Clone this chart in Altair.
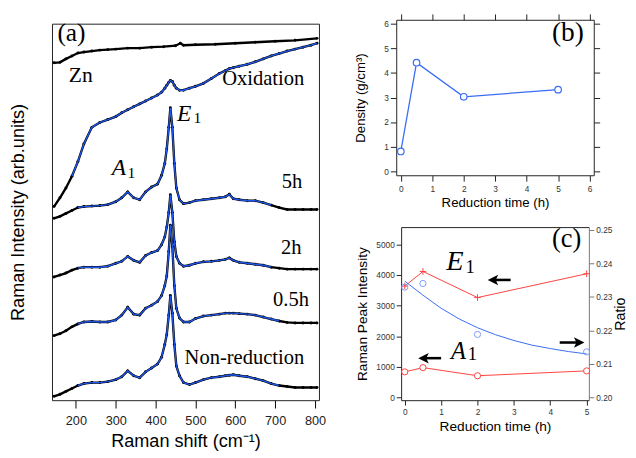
import altair as alt
import pandas as pd

SANS = "Liberation Sans"
SERIF = "Liberation Serif"

# ---------------- panel (a): Raman spectra (arb. units) ----------------
SHIFT = [145, 160, 175, 190, 205, 220, 240, 260, 280, 300, 315, 330, 345, 360, 375, 390, 405,
         415, 423, 428, 433, 437, 442, 447, 452, 460, 470, 485, 500, 520, 540, 560, 575, 585, 595,
         610, 630, 650, 670, 690, 710, 730, 750, 770, 790, 805]
NONRED = [7, 9, 12, 15, 18, 20, 21, 21, 22, 24, 27, 33, 28, 26, 32, 36, 40,
          47, 60, 70, 90, 110, 92, 60, 38, 28, 21, 19, 21, 24, 26, 27, 28, 28.5, 29,
          28, 27, 25, 23, 20, 18, 17, 16, 16, 16, 16]
H05 = [69, 71, 74, 78, 81, 83, 83.5, 83, 83, 85, 90, 98, 91, 90, 97, 100, 104,
       110, 120, 130, 155, 182, 160, 120, 97, 87, 83, 83, 86.5, 89, 90, 91, 92, 92, 92,
       91.5, 91, 90, 88, 86, 84, 82.5, 82, 82, 82, 82]
H2 = [129, 131, 133, 136, 138, 139, 139, 139, 140, 143, 145, 150, 146, 144, 151, 154, 156,
      162, 170, 180, 195, 213, 195, 165, 150, 143, 140, 141, 143, 144.5, 145, 146, 147, 148.5, 146,
      144, 143, 142, 141, 139, 138, 137, 137, 137, 137, 137]
H5 = [189, 191, 194, 197, 200, 201, 201.5, 202, 203, 206, 210, 216, 210, 208, 216, 221, 224,
      233, 245, 260, 282, 302, 282, 245, 220, 208, 204, 205, 207, 208, 209, 210, 211, 213.5, 209,
      208, 207, 207, 205, 202.5, 200, 198, 198, 198, 198, 198]
OXID = [201, 210, 220, 232, 247, 265, 282, 287, 290, 293, 297, 300, 303, 306, 309, 312, 315,
        318, 322, 325, 328, 330, 329, 325, 322, 320, 320, 322, 324, 327, 332, 337, 340, 342, 343,
        344.5, 346.5, 349, 352, 355, 357.5, 360, 362, 364, 366, 368]
ZN_SHIFT = [145, 160, 175, 190, 205, 220, 240, 260, 280, 300, 330, 360, 390, 420, 450, 462, 470,
            500, 550, 600, 650, 700, 750, 805]
ZN = [348, 348.5, 352, 355, 358, 359, 360, 361, 361.5, 362, 363, 363, 364, 364.5, 365.5, 368, 366,
      366.5, 367, 368, 369, 370, 371, 373]
CURVES = ["Non-reduction", "0.5h", "2h", "5h", "Oxidation"]
FIT_RANGE = {"Non-reduction": (200, 720), "0.5h": (200, 725), "2h": (200, 690),
             "5h": (200, 695), "Oxidation": (190, 805)}

# ---------------- panel (b): density ----------------
DENS_T = [0, 0.5, 2, 5]
DENS = [0.8, 4.42, 3.03, 3.32]

# ---------------- panel (c): peak intensity and ratio ----------------
RED_T = [0, 0.5, 2, 5]
E1_INT = [3640, 4117, 3265, 4041]
A1_INT = [839, 977, 712, 871]
RATIO = [0.2329, 0.2340, 0.2188, 0.2136]
FIT_T = [0, 0.5, 1, 1.5, 2, 2.5, 3, 3.5, 4, 4.5, 5]
FIT_RATIO = [0.2347, 0.2305, 0.2266, 0.2234, 0.2208, 0.2187, 0.2170, 0.2156, 0.2146, 0.2137, 0.2130]

FRAME = "#222222"

# ======================= build panel (a) =======================
rows = []
for name, vals in zip(CURVES, [NONRED, H05, H2, H5, OXID]):
    lo, hi = FIT_RANGE[name]
    for s, v in zip(SHIFT, vals):
        rows.append({"curve": name, "shift": s, "I": v, "fit": lo <= s <= hi})
for s, v in zip(ZN_SHIFT, ZN):
    rows.append({"curve": "Zn", "shift": s, "I": v, "fit": False})
spec = pd.DataFrame(rows)

ascale_x = alt.Scale(domain=[140, 810], nice=False, zero=False)
ascale_y = alt.Scale(domain=[3, 388], range=[389, 4], nice=False, zero=False)
xa = alt.X("shift:Q", scale=ascale_x,
           axis=alt.Axis(values=[200, 300, 400, 500, 600, 700, 800], title="Raman shift (cm⁻¹)",
                         tickSize=8, tickColor="black", labelFontSize=13, labelColor="#222",
                         titleFontSize=18.5, titleColor="black", labelPadding=7, titlePadding=4,
                         domain=True, grid=False))
ya = alt.Y("I:Q", scale=ascale_y,
           axis=alt.Axis(labels=False, ticks=False, domain=True, grid=False,
                         title="Raman Intensity (arb.units)", titleFontSize=18.5,
                         titleColor="black", titlePadding=25))
xa_top = alt.X("shift:Q", scale=ascale_x,
               axis=alt.Axis(orient="top", labels=False, ticks=False, domain=True, grid=False,
                             title=None, offset=-4))
ya_right = alt.Y("I:Q", scale=ascale_y,
                 axis=alt.Axis(orient="right", labels=False, ticks=False, domain=True, grid=False,
                               title=None))

black_line = alt.Chart(spec).mark_line(color="black", strokeWidth=2.4).encode(
    x=xa, y=ya, detail="curve:N")
black_dots = alt.Chart(spec).mark_point(filled=True, color="black", size=9, opacity=1).encode(
    x=xa, y=ya)
blue_line = alt.Chart(spec).transform_filter("datum.fit").mark_line(
    color="#1f55e8", strokeWidth=1.4).encode(x=xa, y=ya, detail="curve:N")

ann_a_right = pd.DataFrame({
    "shift": [773, 768, 766, 785, 773],
    "I": [331.5, 226, 158.5, 105, 45.5],
    "txt": ["Oxidation", "5h", "2h", "0.5h", "Non-reduction"]})
ann_a_center = pd.DataFrame({"shift": [212], "I": [335.5], "txt": ["Zn"]})
ann_a_label = pd.DataFrame({"shift": [153.5], "I": [378.5], "txt": ["(a)"]})
ann_a_ital = pd.DataFrame({"shift": [471.8, 307.8], "I": [295.5, 240], "txt": ["E", "A"]})
ann_a_sub = pd.DataFrame({"shift": [505, 339.5], "I": [291, 235], "txt": ["1", "1"]})

t_right = alt.Chart(ann_a_right).mark_text(font=SERIF, fontSize=21, align="right",
                                           baseline="middle").encode(x=xa, y=ya, text="txt:N")
t_center = alt.Chart(ann_a_center).mark_text(font=SERIF, fontSize=22, align="center",
                                             baseline="middle").encode(x=xa, y=ya, text="txt:N")
t_label = alt.Chart(ann_a_label).mark_text(font=SERIF, fontSize=26, align="left",
                                           baseline="middle").encode(x=xa, y=ya, text="txt:N")
t_ital = alt.Chart(ann_a_ital).mark_text(font=SERIF, fontSize=24, fontStyle="italic",
                                         align="center", baseline="middle").encode(
    x=xa, y=ya, text="txt:N")
t_sub = alt.Chart(ann_a_sub).mark_text(font=SERIF, fontSize=16, align="center",
                                       baseline="middle").encode(x=xa, y=ya, text="txt:N")

a_inner = alt.layer(black_line, black_dots, blue_line, t_right, t_center, t_label, t_ital, t_sub)
a_frame = alt.Chart(ann_a_label).mark_point(opacity=0).encode(x=xa_top, y=ya_right)
panel_a = alt.layer(a_inner, a_frame).resolve_axis(x="independent", y="independent").properties(
    width=273, height=389)

# ======================= build panel (b) =======================
dens = pd.DataFrame({"t": DENS_T, "d": DENS})
BLUE_B = "#3a6df5"
bscale_x = alt.Scale(domain=[-0.146, 6.134], nice=False, zero=False)
bscale_y = alt.Scale(domain=[-0.17, 6.17], nice=False, zero=False)
TV = [0, 1, 2, 3, 4, 5, 6]
bx = alt.X("t:Q", scale=bscale_x,
           axis=alt.Axis(values=TV, format="d", tickSize=6, title="Reduction time (h)",
                         labelFontSize=8.5, titleFontSize=13.5, domain=True, grid=False,
                         labelPadding=4, titlePadding=2))
by = alt.Y("d:Q", scale=bscale_y,
           axis=alt.Axis(values=TV, format="d", tickSize=6, title="Density (g/cm³)",
                         labelFontSize=8.5, titleFontSize=13.5, domain=True, grid=False,
                         labelPadding=2, titlePadding=17))
bx_top = alt.X("t:Q", scale=bscale_x,
               axis=alt.Axis(orient="top", values=TV, labels=False, title=None,
                             tickSize=6, domain=True, grid=False))
by_right = alt.Y("d:Q", scale=bscale_y,
                 axis=alt.Axis(orient="right", values=TV, labels=False, title=None,
                               tickSize=6, domain=True, grid=False))

b_line = alt.Chart(dens).mark_line(color=BLUE_B, strokeWidth=1.3).encode(x=bx, y=by)
b_pts = alt.Chart(dens).mark_point(shape="circle", filled=True, fill="white", stroke=BLUE_B,
                                   strokeWidth=1.2, size=45, opacity=1).encode(x=bx, y=by)
b_lab = alt.Chart(pd.DataFrame({"t": [5.31], "d": [5.63], "txt": ["(b)"]})).mark_text(
    font=SERIF, fontSize=28, align="center", baseline="middle").encode(x=bx, y=by, text="txt:N")
b_inner = alt.layer(b_line, b_pts, b_lab)
b_axes = alt.Chart(dens).mark_point(opacity=0).encode(x=bx_top, y=by_right)
panel_b = alt.layer(b_inner, b_axes).resolve_axis(x="independent", y="independent").properties(
    width=202, height=159)

# ======================= build panel (c) =======================
RED = "#ff4040"
BLUE_C = "#3a6cf0"
LBLUE = "#7a9cff"
C_W = 197
cscale_x = alt.Scale(domain=[-0.1, 5.062], range=[5, C_W], nice=False, zero=False)
cx = alt.X("t:Q", scale=cscale_x,
           axis=alt.Axis(values=[0, 1, 2, 3, 4, 5], format="d", tickSize=5, title="Reduction time (h)",
                         labelFontSize=8.5, titleFontSize=14, domain=True, grid=False,
                         labelPadding=3, titlePadding=4))
cx_top = alt.X("t:Q", scale=cscale_x,
               axis=alt.Axis(orient="top", labels=False, ticks=False, title=None, domain=True,
                             grid=False))
cyl = alt.Y("v:Q", scale=alt.Scale(domain=[-86, 5565], nice=False, zero=False),
            axis=alt.Axis(values=[0, 1000, 2000, 3000, 4000, 5000], format="d", tickSize=5,
                          title="Raman Peak Intensity", labelFontSize=8.5, titleFontSize=14,
                          domain=True, grid=False, labelPadding=2, titlePadding=6, offset=-5))
cyr = alt.Y("r:Q", scale=alt.Scale(domain=[0.1992, 0.2508], nice=False, zero=False),
            axis=alt.Axis(orient="right", values=[0.20, 0.21, 0.22, 0.23, 0.24, 0.25], format=".2f",
                          tickSize=5, title="Ratio", titleAngle=270, titleBaseline="top",
                          labelFontSize=8.5, titleFontSize=14.5, domain=True, domainColor="#777",
                          tickColor="#777", grid=False, labelPadding=2, titlePadding=2))

e1 = pd.DataFrame({"t": RED_T, "v": E1_INT})
a1 = pd.DataFrame({"t": RED_T, "v": A1_INT})
rat = pd.DataFrame({"t": RED_T, "r": RATIO})
fit = pd.DataFrame({"t": FIT_T, "r": FIT_RATIO})

PLUS = "M-1,0L1,0M0,-1L0,1"
c_e1_line = alt.Chart(e1).mark_line(color=RED, strokeWidth=1).encode(x=cx, y=cyl)
c_e1_pts = alt.Chart(e1).mark_point(shape=PLUS, filled=False, color=RED, size=45,
                                    strokeWidth=1, opacity=1).encode(x=cx, y=cyl)
c_a1_line = alt.Chart(a1).mark_line(color=RED, strokeWidth=1).encode(x=cx, y=cyl)
c_a1_pts = alt.Chart(a1).mark_point(shape="circle", filled=True, fill="white", stroke=RED,
                                    strokeWidth=1, size=40, opacity=1).encode(x=cx, y=cyl)

lab_c = alt.Chart(pd.DataFrame({"t": [4.45], "v": [5172], "txt": ["(c)"]})).mark_text(
    font=SERIF, fontSize=27, align="center", baseline="middle").encode(x=cx, y=cyl, text="txt:N")
ital_e = alt.Chart(pd.DataFrame({"t": [1.38], "v": [4446], "txt": ["E"]})).mark_text(
    font=SERIF, fontSize=29, fontStyle="italic", align="center", baseline="middle").encode(
    x=cx, y=cyl, text="txt:N")
ital_a = alt.Chart(pd.DataFrame({"t": [1.48], "v": [1526], "txt": ["A"]})).mark_text(
    font=SERIF, fontSize=25, fontStyle="italic", align="center", baseline="middle").encode(
    x=cx, y=cyl, text="txt:N")
sub_c = alt.Chart(pd.DataFrame({"t": [1.8, 1.86], "v": [4250, 1420], "txt": ["1", "1"]})).mark_text(
    font=SERIF, fontSize=19, align="center", baseline="middle").encode(x=cx, y=cyl, text="txt:N")

ARROW_TIP = [2.29, 0.38, 4.93]
ARROW_TAIL = [2.91, 1.00, 4.26]
ARROW_V = [3840, 1286, 1797]
ARROW_DIR = [-1, -1, 1]
arr = pd.DataFrame({"tip": ARROW_TIP, "tail": ARROW_TAIL, "v": ARROW_V, "dir": ARROW_DIR})
arr["head"] = arr["tip"] - arr["dir"] * 0.16
shaft = alt.Chart(arr).transform_calculate(t="datum.head").mark_rule(
    color="black", strokeWidth=2.6).encode(x=cx, y=cyl, x2="tail:Q")
HEAD_L = "M-1,0L0.7,-0.85L0.3,0L0.7,0.85Z"
HEAD_R = "M1,0L-0.7,-0.85L-0.3,0L-0.7,0.85Z"
head_l = alt.Chart(arr).transform_filter("datum.dir < 0").transform_calculate(
    t="datum.head").mark_point(shape=HEAD_L, filled=True, color="black", size=160,
                               opacity=1).encode(x=cx, y=cyl)
head_r = alt.Chart(arr).transform_filter("datum.dir > 0").transform_calculate(
    t="datum.head").mark_point(shape=HEAD_R, filled=True, color="black", size=160,
                               opacity=1).encode(x=cx, y=cyl)

c_left = alt.layer(c_e1_line, c_e1_pts, c_a1_line, c_a1_pts, lab_c, ital_e, ital_a, sub_c,
                   shaft, head_l, head_r)
c_fit = alt.Chart(fit).mark_line(color=BLUE_C, strokeWidth=1).encode(x=cx_top, y=cyr)
c_rat = alt.Chart(rat).mark_point(shape="circle", filled=False, color=LBLUE, strokeWidth=1,
                                  size=40, opacity=1).encode(x=cx_top, y=cyr)
c_right = alt.layer(c_fit, c_rat)
panel_c = alt.layer(c_left, c_right).resolve_scale(y="independent").resolve_axis(
    x="independent", y="independent").properties(width=C_W, height=177)

chart = alt.hconcat(
    panel_a,
    alt.vconcat(panel_b, panel_c, spacing=15),
    spacing=26,
).properties(padding={"left": 0, "top": 0, "right": 0, "bottom": 0}).configure_view(
    stroke="transparent"
).configure_axis(
    labelFont=SANS, titleFont=SANS, titleFontWeight="normal", labelColor="#333",
    titleColor="black", tickColor="#222", domainColor=FRAME, domainWidth=1
)

chart.save("out.html", embed_options={"renderer": "svg", "actions": False})
